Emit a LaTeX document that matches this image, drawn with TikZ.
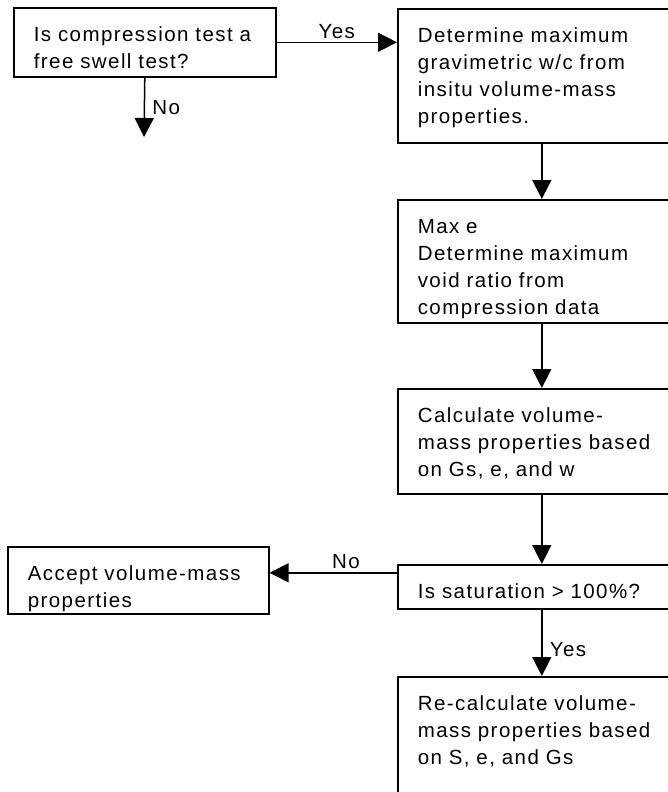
\documentclass[tikz,border=0pt]{standalone}
\usepackage{fontspec}
\setmainfont{Liberation Sans}[LetterSpace=7]
\usetikzlibrary{arrows.meta}

\begin{document}
\begin{tikzpicture}[x=1pt, y=-1pt,
  every node/.style={font=\fontsize{20.5pt}{27pt}\selectfont},
  box/.style 2 args={draw, line width=1.6pt, anchor=north west, align=left,
    text width=#1, inner xsep=20pt, inner ysep=0pt,
    text height=34pt, text depth=#2},
  arr/.style={-{Triangle[length=19pt,width=19pt]}, line width=1.5pt}]
  % page frame (right column runs off the page)
  \useasboundingbox (0,0) rectangle (668,792);
  \clip (0,0) rectangle (668,792);

  % boxes
  \node[box={222pt}{35pt}] (q1) at (13,7) {Is compression test a\\free swell test?};
  \node[box={248pt}{100pt}] (det) at (397,8) {Determine maximum\\gravimetric w/c from\\insitu volume-mass\\properties.};
  \node[box={248pt}{89pt}] (maxe) at (397,199) {Max e\\Determine maximum\\void ratio from\\compression data};
  \node[box={248pt}{71pt}] (calc) at (397,388) {Calculate volume-\\mass properties based\\on Gs, e, and w};
  \node[box={248pt}{10pt}] (sat) at (397,564) {Is saturation > 100\%?};
  \node[box={221pt}{33pt}] (acc) at (7,546) {Accept volume-mass\\properties};
  \node[box={248pt}{106pt}] (recalc) at (397,676) {Re-calculate volume-\\mass properties based\\on S, e, and Gs};

  % connectors
  \coordinate (noend) at (144,137);
  \draw[arr] (q1.east) -- (q1.east -| det.west) node[midway, above] {Yes};
  \draw[arr] (q1.south) -- (noend) node[midway, right=4pt] {No};
  \draw[arr] (det.south) -- (maxe.north);
  \draw[arr] (maxe.south) -- (calc.north);
  \draw[arr] (calc.south) -- (sat.north);
  \draw[arr] ([yshift=14pt]sat.west) -- ([yshift=14pt]sat.west -| acc.east) node[pos=0.4, above] {No};
  \draw[arr] (sat.south) -- (recalc.north) node[pos=0.6, right=4pt] {Yes};
\end{tikzpicture}
\end{document}
